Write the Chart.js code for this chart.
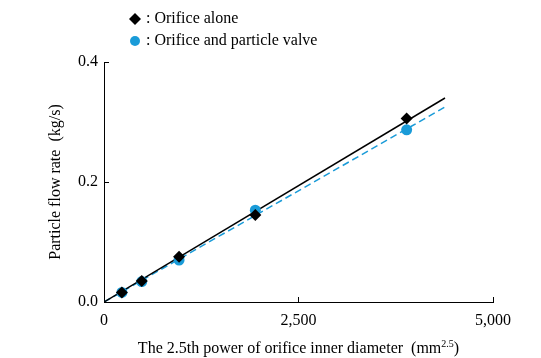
<!DOCTYPE html>
<html>
<head>
<meta charset="utf-8">
<script src="https://cdn.jsdelivr.net/npm/chart.js@4"></script>
<style>
  html, body { margin: 0; padding: 0; background: #fff; }
  #wrap { width: 541px; height: 358px; position: relative; }
</style>
</head>
<body>
<div id="wrap"><canvas id="grafico"></canvas></div>
<script>
// Datos
const diamPow = [230, 485, 965, 1945, 3890];           // mm^2.5
const orificeAlone = [0.016, 0.035, 0.0755, 0.145, 0.306]; // kg/s
const orificeValve = [0.016, 0.034, 0.070, 0.153, 0.287];  // kg/s
const fitX = [0, 4383];
const fitAlone = [0, 0.340];
const fitValve = [0, 0.325];
const xTicks = [0, 2500, 5000];
const yTicks = [0, 0.2, 0.4];
const legendLabels = [': Orifice alone', ': Orifice and particle valve'];

const BLUE = '#1a9bd8';
const SERIF = '"Liberation Serif", "Times New Roman", serif';

const pts = (xs, ys) => xs.map((x, i) => ({ x, y: ys[i] }));

// Leyenda y título del eje X (con superíndice)
const extras = {
  id: 'extras',
  afterDraw(chart) {
    const { ctx, chartArea } = chart;
    ctx.save();
    ctx.font = '16px ' + SERIF;
    ctx.fillStyle = '#000';
    ctx.textBaseline = 'middle';

    // leyenda
    const ly = [19, 41];
    // diamante
    ctx.beginPath();
    ctx.moveTo(135, ly[0] - 6); ctx.lineTo(141, ly[0]); ctx.lineTo(135, ly[0] + 6); ctx.lineTo(129, ly[0]);
    ctx.closePath(); ctx.fill();
    // círculo
    ctx.fillStyle = BLUE;
    ctx.beginPath(); ctx.arc(135, ly[1], 5, 0, Math.PI * 2); ctx.fill();
    ctx.fillStyle = '#000';
    ctx.textAlign = 'left';
    ctx.fillText(legendLabels[0], 146, ly[0]);
    ctx.fillText(legendLabels[1], 146, ly[1]);

    // título eje X
    const main = 'The 2.5th power of orifice inner diameter  (mm';
    const sup = '2.5';
    const end = ')';
    const supFont = '10px ' + SERIF;
    const wMain = ctx.measureText(main).width;
    const wEnd = ctx.measureText(end).width;
    ctx.font = supFont;
    const wSup = ctx.measureText(sup).width;
    const total = wMain + wSup + wEnd;
    const cx = (chartArea.left + chartArea.right) / 2;
    let x = cx - total / 2;
    const y = 349;
    ctx.font = '16px ' + SERIF;
    ctx.fillText(main, x, y);
    x += wMain;
    ctx.font = supFont;
    ctx.fillText(sup, x, y - 5);
    x += wSup;
    ctx.font = '16px ' + SERIF;
    ctx.fillText(end, x, y);
    ctx.restore();
  }
};

new Chart(document.getElementById('grafico'), {
  type: 'scatter',
  data: {
    datasets: [
      {
        label: 'Orifice alone',
        data: pts(diamPow, orificeAlone),
        pointStyle: 'rectRot',
        pointRadius: 6,
        backgroundColor: '#000',
        borderColor: '#000',
        borderWidth: 0
      },
      {
        label: 'Orifice and particle valve',
        data: pts(diamPow, orificeValve),
        pointStyle: 'circle',
        pointRadius: 5.5,
        backgroundColor: BLUE,
        borderColor: BLUE,
        borderWidth: 0
      },
      {
        label: 'fit alone',
        data: pts(fitX, fitAlone),
        showLine: true,
        pointRadius: 0,
        borderColor: '#000',
        borderWidth: 1.5,
        fill: false
      },
      {
        label: 'fit valve',
        data: pts(fitX, fitValve),
        showLine: true,
        pointRadius: 0,
        borderColor: BLUE,
        borderWidth: 1.5,
        borderDash: [7, 4],
        fill: false
      }
    ]
  },
  options: {
    responsive: true,
    maintainAspectRatio: false,
    animation: false,
    layout: { padding: { left: 0, top: 62, right: 48, bottom: 0 } },
    plugins: {
      legend: { display: false },
      tooltip: { enabled: false }
    },
    scales: {
      x: {
        type: 'linear',
        min: 0,
        max: 5000,
        afterBuildTicks: axis => { axis.ticks = xTicks.map(v => ({ value: v })); },
        afterFit: axis => { axis.height = 56; },
        ticks: {
          color: '#000',
          font: { family: SERIF, size: 16 },
          padding: 14,
          maxRotation: 0,
          callback: v => v.toLocaleString('en-US')
        },
        grid: { drawOnChartArea: false, drawTicks: true, tickLength: -5, color: '#000' },
        border: { display: true, color: '#000', width: 1 },
        title: { display: false }
      },
      y: {
        type: 'linear',
        min: 0,
        max: 0.4,
        afterBuildTicks: axis => { axis.ticks = yTicks.map(v => ({ value: v })); },
        afterFit: axis => { axis.width = 104; },
        ticks: {
          color: '#000',
          font: { family: SERIF, size: 16 },
          padding: 11,
          callback: v => v.toFixed(1)
        },
        grid: { drawOnChartArea: false, drawTicks: true, tickLength: -5, color: '#000' },
        border: { display: true, color: '#000', width: 1 },
        title: {
          display: true,
          text: 'Particle flow rate  (kg/s)',
          color: '#000',
          font: { family: SERIF, size: 16 },
          padding: { top: 46, bottom: 0 }
        }
      }
    }
  },
  plugins: [extras]
});
</script>
</body>
</html>
